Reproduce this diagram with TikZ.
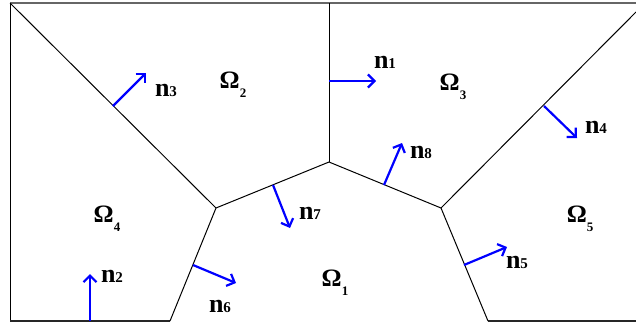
\documentclass[tikz,border=0pt]{standalone}
\usepackage{fontspec}
\setmainfont{Liberation Serif}
\usetikzlibrary{arrows.meta}

% label macros
\newcommand{\nvec}[1]{n{\fontsize{15}{15}\selectfont #1}}
\newcommand{\dom}[1]{Ω\raisebox{-0.8ex}{\fontsize{13}{13}\selectfont #1}}

\begin{document}
\begin{tikzpicture}[x=1pt,y=-1pt,
  wall/.style={draw,line width=1pt},
  frame/.style={draw,line width=1.6pt},
  normal/.style={draw=blue,line width=2.2pt,-{Straight Barb[length=6.5pt,width=13pt,line width=2.2pt]}},
  nlabel/.style={font=\bfseries\fontsize{26}{26}\selectfont,inner sep=0pt},
  domlabel/.style={font=\bfseries\fontsize{25}{25}\selectfont,inner sep=0pt}
]
\useasboundingbox (0,0) rectangle (636,327);

% frame
\draw[frame,draw=black!60] (10,3) -- (636,3);
\draw[wall] (10,3) -- (10,321);
\draw[frame,draw=black!85] (10,321) -- (170,321);
\draw[frame,draw=black!85] (488,321) -- (636,321);

% junctions
\coordinate (A) at (216,208);
\coordinate (B) at (329,162);
\coordinate (C) at (441,208);

% interfaces
\draw[wall] (10,3) -- (A) -- (170,321);
\draw[wall] (A) -- (B) -- (C);
\draw[wall] (329,3) -- (B);
\draw[wall] (636,12) -- (C) -- (488,321);

% normals
\coordinate (n1s) at (329,81);  \coordinate (n1e) at (376,81);
\coordinate (n2s) at (90,321);  \coordinate (n2e) at (90,274);
\coordinate (n3s) at (113,106); \coordinate (n3e) at (146,73);
\coordinate (n4s) at (544,106); \coordinate (n4e) at (577,138);
\coordinate (n5s) at (464,265); \coordinate (n5e) at (507,247);
\coordinate (n6s) at (193,265); \coordinate (n6e) at (236,283);
\coordinate (n7s) at (273,185); \coordinate (n7e) at (290,228);
\coordinate (n8s) at (384,185); \coordinate (n8e) at (402,143);
\foreach \i in {1,...,8}
  \draw[normal] (n\i s) -- (n\i e);

% normal labels
\node[nlabel] (ln1) at (385,62)  {\nvec{1}};
\node[nlabel] (ln2) at (112,276) {\nvec{2}};
\node[nlabel] (ln3) at (166,90)  {\nvec{3}};
\node[nlabel] (ln4) at (596,127) {\nvec{4}};
\node[nlabel] (ln5) at (517,262) {\nvec{5}};
\node[nlabel] (ln6) at (220,306) {\nvec{6}};
\node[nlabel] (ln7) at (310,213) {\nvec{7}};
\node[nlabel] (ln8) at (421,152) {\nvec{8}};

% subdomains
\node[domlabel] (om1) at (335,283) {\dom{1}};
\node[domlabel] (om2) at (233,85)  {\dom{2}};
\node[domlabel] (om3) at (453,87)  {\dom{3}};
\node[domlabel] (om4) at (107,219) {\dom{4}};
\node[domlabel] (om5) at (580,219) {\dom{5}};

\end{tikzpicture}
\end{document}
